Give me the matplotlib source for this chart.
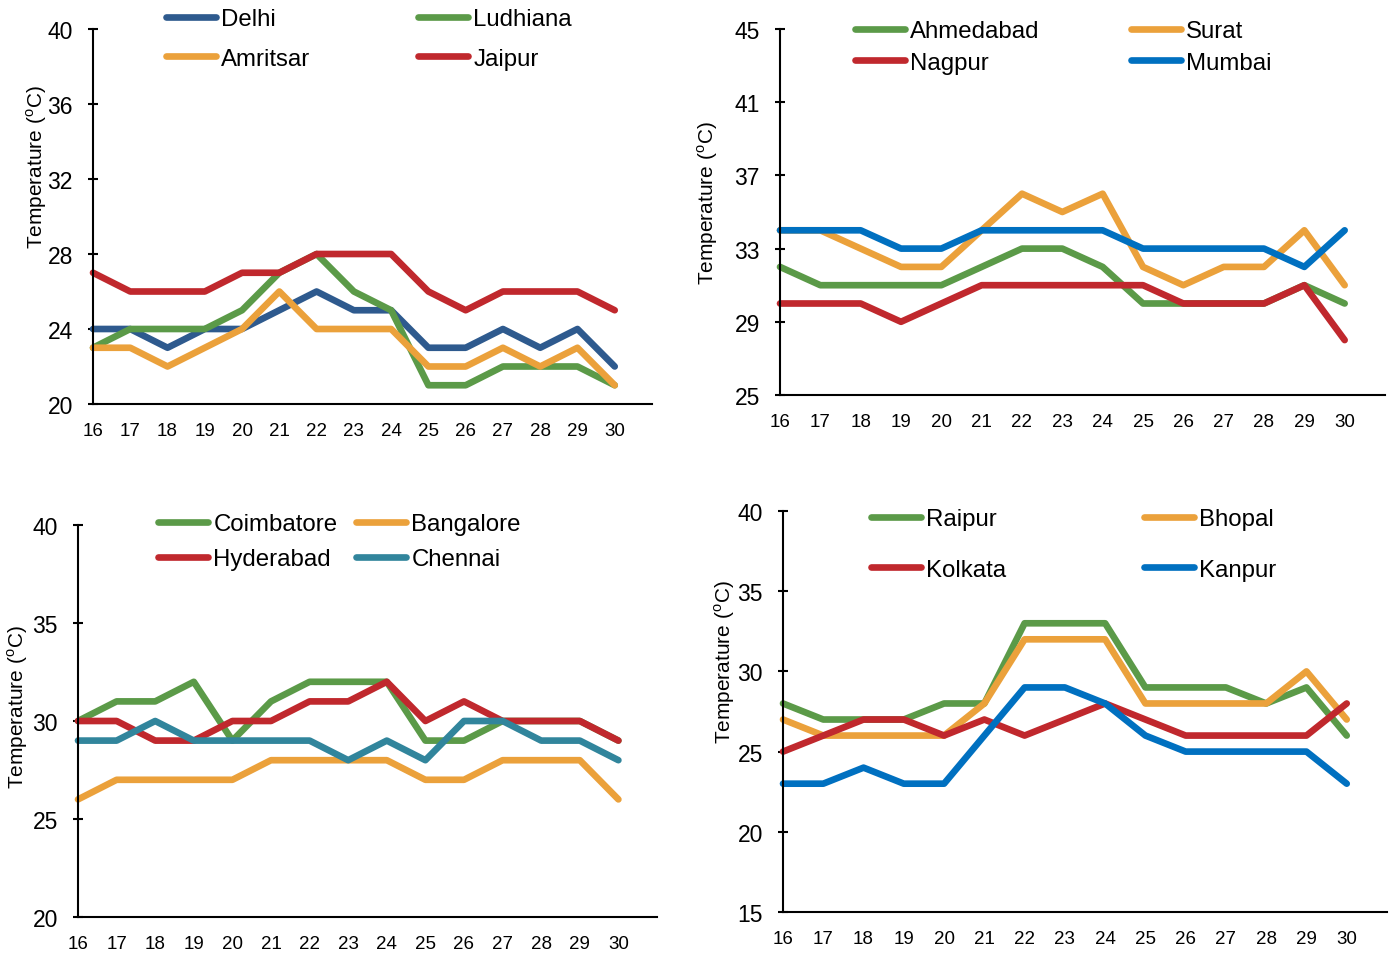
import matplotlib
matplotlib.use('Agg')
import matplotlib.pyplot as plt

plt.rcParams['font.family'] = ['Liberation Sans', 'DejaVu Sans']
plt.rcParams['mathtext.fontset'] = 'custom'
plt.rcParams['mathtext.rm'] = 'Liberation Sans'

# Data
days = list(range(16, 31))

north_names = ['Delhi', 'Ludhiana', 'Amritsar', 'Jaipur']
delhi = [24, 24, 23, 24, 24, 25, 26, 25, 25, 23, 23, 24, 23, 24, 22]
ludhiana = [23, 24, 24, 24, 25, 27, 28, 26, 25, 21, 21, 22, 22, 22, 21]
amritsar = [23, 23, 22, 23, 24, 26, 24, 24, 24, 22, 22, 23, 22, 23, 21]
jaipur = [27, 26, 26, 26, 27, 27, 28, 28, 28, 26, 25, 26, 26, 26, 25]

west_names = ['Ahmedabad', 'Surat', 'Nagpur', 'Mumbai']
ahmedabad = [32, 31, 31, 31, 31, 32, 33, 33, 32, 30, 30, 30, 30, 31, 30]
surat = [34, 34, 33, 32, 32, 34, 36, 35, 36, 32, 31, 32, 32, 34, 31]
nagpur = [30, 30, 30, 29, 30, 31, 31, 31, 31, 31, 30, 30, 30, 31, 28]
mumbai = [34, 34, 34, 33, 33, 34, 34, 34, 34, 33, 33, 33, 33, 32, 34]

south_names = ['Coimbatore', 'Bangalore', 'Hyderabad', 'Chennai']
coimbatore = [30, 31, 31, 32, 29, 31, 32, 32, 32, 29, 29, 30, 30, 30, 29]
bangalore = [26, 27, 27, 27, 27, 28, 28, 28, 28, 27, 27, 28, 28, 28, 26]
hyderabad = [30, 30, 29, 29, 30, 30, 31, 31, 32, 30, 31, 30, 30, 30, 29]
chennai = [29, 29, 30, 29, 29, 29, 29, 28, 29, 28, 30, 30, 29, 29, 28]

central_names = ['Raipur', 'Bhopal', 'Kolkata', 'Kanpur']
raipur = [28, 27, 27, 27, 28, 28, 33, 33, 33, 29, 29, 29, 28, 29, 26]
bhopal = [27, 26, 26, 26, 26, 28, 32, 32, 32, 28, 28, 28, 28, 30, 27]
kolkata = [25, 26, 27, 27, 26, 27, 26, 27, 28, 27, 26, 26, 26, 26, 28]
kanpur = [23, 23, 24, 23, 23, 26, 29, 29, 28, 26, 25, 25, 25, 25, 23]

W, H = 1393, 954
fig = plt.figure(figsize=(W / 100, H / 100), dpi=100)


def px_axes(left, top, right, bottom):
    return fig.add_axes([left / W, 1 - bottom / H, (right - left) / W, (bottom - top) / H])


def style(ax, yticks, lab_xy):
    ax.set_xlim(16, 31)
    ax.set_ylim(yticks[0], yticks[-1])
    ax.set_yticks(yticks)
    ax.set_xticks(days)
    for s in ['top', 'right']:
        ax.spines[s].set_visible(False)
    for s in ['left', 'bottom']:
        ax.spines[s].set_linewidth(1.5)
    ax.tick_params(axis='y', direction='inout', length=7, width=1.5, pad=11, labelsize=16.5)
    ax.tick_params(axis='x', length=0, pad=13, labelsize=13.5)
    ax.set_ylabel(r'Temperature ($^\mathrm{o}$C)', fontsize=15)
    ax.yaxis.set_label_coords(*lab_xy)


def legends(ax, handles, labels, x1, x2, y1, spacing):
    kw = dict(loc='upper left', frameon=False, fontsize=17.3, handlelength=2.1,
              handletextpad=0.2, borderpad=0, borderaxespad=0, labelspacing=spacing,
              bbox_transform=fig.transFigure)
    l1 = ax.legend([handles[0], handles[2]], [labels[0], labels[2]],
                   bbox_to_anchor=(x1 / W, 1 - y1 / H), **kw)
    ax.add_artist(l1)
    ax.legend([handles[1], handles[3]], [labels[1], labels[3]],
              bbox_to_anchor=(x2 / W, 1 - y1 / H), **kw)


def draw(ax, series, colors, names):
    hs = []
    for vals, c, n in zip(series, colors, names):
        h, = ax.plot(days, vals, color=c, lw=4.8, solid_capstyle='round',
                     solid_joinstyle='round', label=n, clip_on=False)
        hs.append(h)
    return hs


green = '#5B9A48'
orange = '#EBA13B'
red = '#C0282D'

# Panel 1
ax1 = px_axes(93, 30, 652, 405)
h = draw(ax1, [delhi, ludhiana, amritsar, jaipur], ['#2E5A8E', green, orange, red], north_names)
style(ax1, [20, 24, 28, 32, 36, 40], (-0.078, 0.635))
legends(ax1, h, north_names, 166, 418, 9, 0.74)

# Panel 2
ax2 = px_axes(780, 30, 1385, 396)
h = draw(ax2, [ahmedabad, surat, nagpur, mumbai], [green, orange, red, '#0070C0'], west_names)
style(ax2, [25, 29, 33, 37, 41, 45], (-0.099, 0.527))
legends(ax2, h, west_names, 855, 1131, 21, 0.41)

# Panel 3
ax3 = px_axes(78, 526, 657, 918)
h = draw(ax3, [coimbatore, bangalore, hyderabad, chennai], [green, orange, red, '#31859C'], south_names)
style(ax3, [20, 25, 30, 35, 40], (-0.083, 0.538))
legends(ax3, h, south_names, 158, 356, 514, 0.55)

# Panel 4
ax4 = px_axes(783, 512, 1387, 913)
h = draw(ax4, [raipur, bhopal, kolkata, kanpur], [green, orange, red, '#0070C0'], central_names)
style(ax4, [15, 20, 25, 30, 35, 40], (-0.076, 0.626))
legends(ax4, h, central_names, 871, 1144, 509, 1.19)

fig.savefig('out.png', dpi=100)
